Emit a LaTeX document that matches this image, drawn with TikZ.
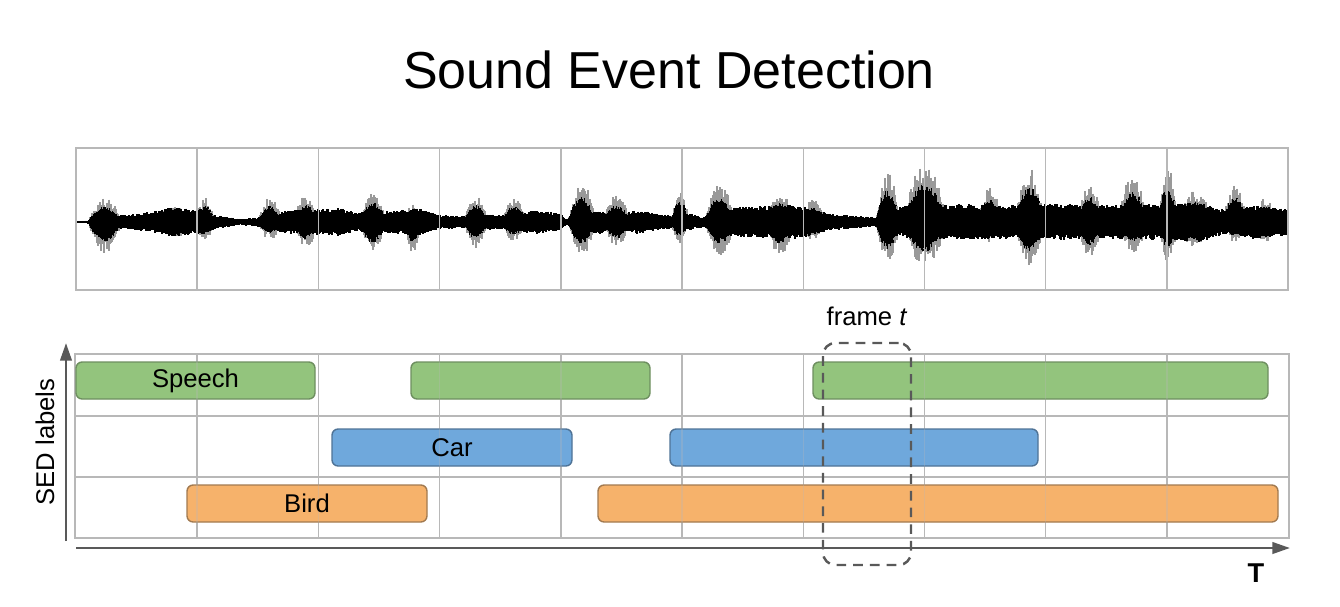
\documentclass[tikz,border=0pt]{standalone}
\usepackage{fontspec}
\setmainfont{Liberation Sans}
\usetikzlibrary{arrows.meta,positioning,fit}

\definecolor{speechfill}{HTML}{93C47D}
\definecolor{speechline}{HTML}{6E8F60}
\definecolor{carfill}{HTML}{6FA8DC}
\definecolor{carline}{HTML}{4F7396}
\definecolor{birdfill}{HTML}{F6B26B}
\definecolor{birdline}{HTML}{A27A50}
\definecolor{axisgrey}{HTML}{595959}

\begin{document}
\begin{tikzpicture}[x=0.02cm,y=-0.02cm,
    gridline/.style={draw=black!28,line width=0.8pt},
    wave/.style={draw=black,line width=0.8pt},
    wavetip/.style={draw=black!40,line width=0.8pt},
    bar/.style={rounded corners=3.5pt,line width=0.8pt,inner sep=0pt},
    speechbar/.style={bar,fill=speechfill,draw=speechline},
    carbar/.style={bar,fill=carfill,draw=carline},
    birdbar/.style={bar,fill=birdfill,draw=birdline},
    lbl/.style={font=\fontsize{14.6}{16}\selectfont,inner sep=0pt},
    axis/.style={draw=axisgrey,line width=1.5pt,-{Triangle[length=10pt,width=6.5pt]}},
    framebox/.style={draw=axisgrey,line width=1.4pt,dash pattern=on 5.5pt off 4pt,
      rounded corners=7pt,inner sep=0pt}]
    \useasboundingbox (0,0) rectangle (1340,606);

    % Title
    \node[font=\fontsize{29.6}{32}\selectfont,anchor=base] (title) at (669,88) {Sound Event Detection};

    % Waveform
    \pgfmathsetseed{42}
    \foreach \c/\w/\u/\d in {105/17/24/31, 175/22/15/15, 205/11/25/18, 270/12/25/18,
        306/13/27/26, 373/13/30/33, 413/8/19/33, 476/12/27/26, 514/12/25/20,
        582/14/39/33, 617/14/27/25, 680/9/32/21, 720/15/39/33, 780/15/30/33,
        813/12/24/18, 888/12/49/41, 925/22/59/46, 990/12/35/21, 1030/15/54/46,
        1090/12/40/36, 1133/15/47/31, 1168/10/55/40, 1195/18/32/25, 1235/12/39/21,
        1265/14/25/20} {
      \pgfmathsetmacro\xl{\c-\w}
      \pgfmathsetmacro\xn{\c-\w+1}
      \pgfmathsetmacro\xr{\c+\w}
      \foreach \x in {\xl,\xn,...,\xr} {
        \pgfmathsetmacro\e{max(0,1-(abs(\x-\c)/\w)^2)}
        \pgfmathsetmacro\up{\u*\e*(0.55+0.45*rnd)}
        \pgfmathsetmacro\dn{\d*\e*(0.55+0.45*rnd)}
        \pgfmathsetmacro\cu{\u*\e*(0.5+0.15*rnd)}
        \pgfmathsetmacro\cd{\d*\e*(0.5+0.15*rnd)}
        \draw[wavetip] (\x,222-\up) -- (\x,222+\dn);
        \draw[wave] (\x,222-\cu) -- (\x,222+\cd);
      }
    }
    \foreach \xb/\ab [remember=\xb as \xa (initially 78),remember=\ab as \aa (initially 1)] in
        {92/2, 95/6, 125/7, 135/8, 155/11, 175/15, 195/12, 200/14, 215/7, 240/3,
        260/5, 285/11, 295/12, 318/13, 340/14, 357/9, 365/12, 385/11, 397/12, 420/14,
        440/7, 467/6, 490/8, 505/7, 533/12, 560/9, 566/3, 575/9, 600/12, 610/7,
        637/12, 673/6, 690/8, 705/5, 712/14, 760/16, 800/17, 833/8, 877/5, 882/12,
        910/17, 960/18, 1000/17, 1050/18, 1100/17, 1160/18, 1200/20, 1225/12,
        1250/17, 1287/14} {
      \pgfmathsetmacro\xs{\xa+1}
      \foreach \x in {\xa,\xs,...,\xb} {
        \pgfmathsetmacro\amp{\aa+(\ab-\aa)*(\x-\xa)/(\xb-\xa)}
        \pgfmathsetmacro\up{\amp*(0.7+0.3*rnd)}
        \pgfmathsetmacro\dn{\amp*(0.7+0.3*rnd)}
        \draw[wave] (\x,222-\up) -- (\x,222+\dn);
      }
    }

    % Grids
    \draw[gridline] (76,148) rectangle (1288,290);
    \foreach \i in {1,...,9}
      \draw[gridline] ({76+121.2*\i},148) -- ({76+121.2*\i},290);

    \draw[gridline] (75,354) rectangle (1289,538);
    \draw[gridline] (75,416) -- (1289,416);
    \draw[gridline] (75,477) -- (1289,477);
    \foreach \i in {1,...,9}
      \draw[gridline] ({76+121.2*\i},354) -- ({76+121.2*\i},538);

    % Label bars
    \node[speechbar,fit={(76,362) (315,399)}] (speech1) {};
    \node[speechbar,fit={(411,362) (650,399)}] (speech2) {};
    \node[speechbar,fit={(813,362) (1268,399)}] (speech3) {};
    \node[carbar,fit={(332,429) (572,466)}] (car1) {};
    \node[carbar,fit={(670,429) (1038,466)}] (car2) {};
    \node[birdbar,fit={(187,485) (427,522)}] (bird1) {};
    \node[birdbar,fit={(598,485) (1278,522)}] (bird2) {};
    \foreach \i in {1,...,9}
      \draw[gridline,draw opacity=0.3] ({76+121.2*\i},354) -- ({76+121.2*\i},538);
    \node[lbl] at (speech1.center) {Speech};
    \node[lbl] at (car1.center) {Car};
    \node[lbl] at (bird1.center) {Bird};

    % Axes
    \coordinate (ybot) at (66,541);
    \coordinate (ytop) at (66,343);
    \coordinate (xleft) at (76,548);
    \coordinate (xright) at (1290,548);
    \draw[axis] (ybot) -- (ytop);
    \draw[axis] (xleft) -- (xright);
    \node[lbl,rotate=90] (ylabel) at (45,442) {SED labels};
    \node[font=\fontsize{15.5}{17}\selectfont\bfseries,anchor=base,inner sep=0pt] (tlabel) at (1256,582) {T};

    % Frame
    \node[framebox,fit={(823,343) (911,565)}] (frame) {};
    \node[lbl,above=0.32cm of frame] (framelbl) {frame \textit{t}};
\end{tikzpicture}
\end{document}
